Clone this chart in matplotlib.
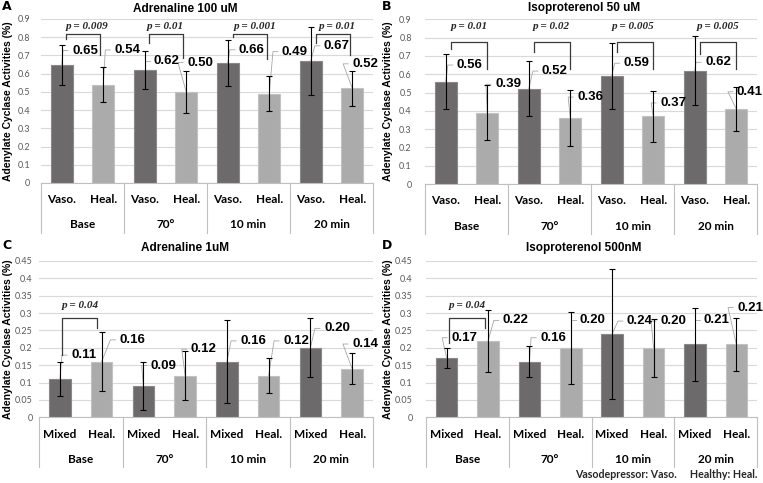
import matplotlib
matplotlib.use('Agg')
import matplotlib.pyplot as plt
from matplotlib.lines import Line2D

# ---------------- data ----------------
groups = ['Base', '70°', '10 min', '20 min']
sub_AB = ['Vaso.', 'Heal.']
sub_CD = ['Mixed', 'Heal.']

A_title = 'Adrenaline 100 uM'
A_vals = [0.65, 0.54, 0.62, 0.50, 0.66, 0.49, 0.67, 0.52]
A_err = [0.11, 0.095, 0.105, 0.115, 0.125, 0.095, 0.185, 0.095]
A_p = ['p = 0.009', 'p = 0.01', 'p = 0.001', 'p = 0.01']

B_title = 'Isoproterenol 50 uM'
B_vals = [0.56, 0.39, 0.52, 0.36, 0.59, 0.37, 0.62, 0.41]
B_err = [0.15, 0.15, 0.15, 0.155, 0.18, 0.14, 0.19, 0.12]
B_p = ['p = 0.01', 'p = 0.02', 'p = 0.005', 'p = 0.005']

C_title = 'Adrenaline 1uM'
C_vals = [0.11, 0.16, 0.09, 0.12, 0.16, 0.12, 0.20, 0.14]
C_err = [0.05, 0.085, 0.068, 0.07, 0.12, 0.05, 0.085, 0.045]
C_p = ['p = 0.04']

D_title = 'Isoproterenol 500nM'
D_vals = [0.17, 0.22, 0.16, 0.20, 0.24, 0.20, 0.21, 0.21]
D_err = [0.029, 0.09, 0.044, 0.103, 0.186, 0.083, 0.105, 0.076]
D_p = ['p = 0.04']

AB_yticks = [0, 0.1, 0.2, 0.3, 0.4, 0.5, 0.6, 0.7, 0.8, 0.9]
AB_yticklabels = ['0', '0.1', '0.2', '0.3', '0.4', '0.5', '0.6', '0.7', '0.8', '0.9']
CD_yticks = [0, 0.05, 0.1, 0.15, 0.2, 0.25, 0.3, 0.35, 0.4, 0.45]
CD_yticklabels = ['0', '0.05', '0.1', '0.15', '0.2', '0.25', '0.3', '0.35', '0.4', '0.45']

# ---------------- layout (label / bracket placement) ----------------
A_lab_x = [0.56, 1.58, 2.53, 3.33, 4.58, 5.62, 6.63, 7.31]
A_lab_y = [0.727, 0.73, 0.667, 0.661, 0.731, 0.721, 0.753, 0.654]
B_lab_x = [0.58, 1.50, 2.63, 3.48, 4.60, 5.48, 6.56, 7.33]
B_lab_y = [0.65, 0.545, 0.617, 0.475, 0.66, 0.443, 0.665, 0.504]
C_lab_x = [0.58, 1.74, 2.49, 3.45, 4.63, 5.66, 6.64, 7.31]
C_lab_y = [0.179, 0.223, 0.149, 0.196, 0.22, 0.22, 0.256, 0.211]
D_lab_x = [0.42, 1.67, 2.57, 3.53, 4.67, 5.47, 6.53, 7.33]
D_lab_y = [0.229, 0.279, 0.229, 0.279, 0.277, 0.277, 0.279, 0.316]

# bracket: (left x, right x, top y, left bottom, right bottom, text x, text y)
A_br = [(0.10, 0.93, 0.82, 0.79, 0.70, 0.61, 0.86),
        (2.10, 2.93, 0.82, 0.77, 0.685, 2.50, 0.86),
        (4.12, 4.95, 0.82, 0.80, 0.68, 4.66, 0.86),
        (6.12, 6.95, 0.82, 0.77, 0.70, 6.63, 0.86)]
B_br = [(0.12, 1.0, 0.775, 0.74, 0.63, 0.58, 0.86),
        (2.12, 3.0, 0.775, 0.72, 0.63, 2.55, 0.86),
        (4.12, 5.0, 0.775, 0.72, 0.63, 4.51, 0.86),
        (6.12, 7.0, 0.775, 0.71, 0.63, 6.56, 0.86)]
C_br = [(0.05, 0.88, 0.287, 0.18, 0.256, 0.50, 0.323)]
D_br = [(0.05, 0.92, 0.286, 0.214, 0.257, 0.50, 0.323)]

DARK = '#6d6a6b'
LIGHT = '#ababab'
W, H = 763, 483

fig = plt.figure(figsize=(W / 100, H / 100), dpi=100)


def px_axes(left, right, top, bottom):
    return fig.add_axes([left / W, 1 - bottom / H, (right - left) / W, (bottom - top) / H])


def draw_panel(ax, vals, errs, subs, ylim, yticks, yticklabels, lab_x, lab_y, brs, pvals,
               title, title_x, title_y, letter, letter_x, letter_y, ylab_x, tick_pad):
    xs = list(range(len(vals)))
    colors = [DARK if i % 2 == 0 else LIGHT for i in xs]
    edges = ['#8a8889' if i % 2 == 0 else '#c2c2c2' for i in xs]
    ax.bar(xs, vals, width=0.52, color=colors, edgecolor=edges, linewidth=0.8, zorder=2)
    ax.errorbar(xs, vals, yerr=errs, fmt='none', ecolor='black', elinewidth=0.8,
                capsize=2.5, capthick=0.8, zorder=3)
    ax.set_xlim(-0.5, len(vals) - 0.5)
    ax.set_ylim(*ylim)
    ax.set_yticks(yticks)
    ax.set_yticklabels(yticklabels, fontsize=6.5, color='#595959', family='Lato')
    ax.tick_params(axis='y', length=0, pad=tick_pad)
    ax.set_xticks([])
    ax.grid(axis='y', color='#d9d9d9', linewidth=0.8, zorder=0)
    ax.set_axisbelow(True)
    for s in ['left', 'right', 'top']:
        ax.spines[s].set_visible(False)
    ax.spines['bottom'].set_color('#bfbfbf')
    ax.spines['bottom'].set_linewidth(0.8)
    pos = ax.get_position()
    ax.set_ylabel('Adenylate Cyclase Activities (%)', fontsize=7.5, fontweight='bold',
                  family='Liberation Sans', va='center')
    ax.yaxis.set_label_coords((ylab_x / W - pos.x0) / pos.width, 0.5)

    # data labels with leader lines
    for i, v in enumerate(vals):
        lx, ly = lab_x[i], lab_y[i]
        left = lx - 0.33
        ax.plot([i, left - 0.2, left - 0.08], [v, ly, ly], color='#a6a6a6', lw=0.6,
                zorder=2.5, clip_on=False)
        ax.text(lx, ly, f'{v:.2f}', ha='center', va='center', fontsize=9.5,
                fontweight='bold', family='Liberation Sans', zorder=4, clip_on=False)

    # significance brackets
    for (xl, xr, yt, yl, yr, tx, ty), p in zip(brs, pvals):
        ax.plot([xl, xl, xr, xr], [yl, yt, yt, yr], color='#3a3a3a', lw=0.9, zorder=3,
                clip_on=False)
        ax.text(tx, ty, p, ha='center', va='center', fontsize=8, style='italic',
                fontweight='bold', family='Liberation Serif', color='#262626', clip_on=False)

    # multi-level category axis
    hpx = pos.height * H
    xt = ax.get_xaxis_transform()
    for b in [-0.5, 1.5, 3.5, 5.5, 7.5]:
        ax.add_line(Line2D([b, b], [0, -50 / hpx], transform=xt, color='#bfbfbf',
                           lw=0.8, clip_on=False))
    for i in xs:
        ax.text(i, -17 / hpx, subs[i % 2], transform=xt, ha='center', va='center',
                fontsize=8.5, fontweight='bold', family='Lato')
    for g, name in enumerate(groups):
        ax.text(2 * g + 0.5, -42 / hpx, name, transform=xt, ha='center', va='center',
                fontsize=8.5, fontweight='bold', family='Lato')

    fig.text(title_x / W, 1 - title_y / H, title, ha='center', va='center', fontsize=8.5,
             fontweight='bold', family='Liberation Sans')
    fig.text(letter_x / W, 1 - letter_y / H, letter, ha='center', va='center', fontsize=9,
             fontweight='black', family='DejaVu Sans')


axA = px_axes(41, 373, 19, 183)
axB = px_axes(425, 757, 19.3, 184)
axC = px_axes(39, 373, 261, 417.3)
axD = px_axes(426, 757, 261, 417.3)

draw_panel(axA, A_vals, A_err, sub_AB, (0, 0.9), AB_yticks, AB_yticklabels, A_lab_x, A_lab_y,
           A_br, A_p, A_title, 185, 8.5, 'A', 7, 6, 8, 8)
draw_panel(axB, B_vals, B_err, sub_AB, (0, 0.9), AB_yticks, AB_yticklabels, B_lab_x, B_lab_y,
           B_br, B_p, B_title, 584, 8.5, 'B', 387, 6, 388, 9.5)
draw_panel(axC, C_vals, C_err, sub_CD, (0, 0.45), CD_yticks, CD_yticklabels, C_lab_x, C_lab_y,
           C_br, C_p, C_title, 185, 248.5, 'C', 7, 246, 8, 4.5)
draw_panel(axD, D_vals, D_err, sub_CD, (0, 0.45), CD_yticks, CD_yticklabels, D_lab_x, D_lab_y,
           D_br, D_p, D_title, 584, 248.5, 'D', 387, 246, 388, 9.5)

fig.text(757 / W, 1 - 474 / H, 'Vasodepressor: Vaso.     Healthy: Heal.', ha='right',
         va='center', fontsize=7.7, fontweight='bold', family='Lato', color='#262626')

fig.savefig('out.png', dpi=100)
